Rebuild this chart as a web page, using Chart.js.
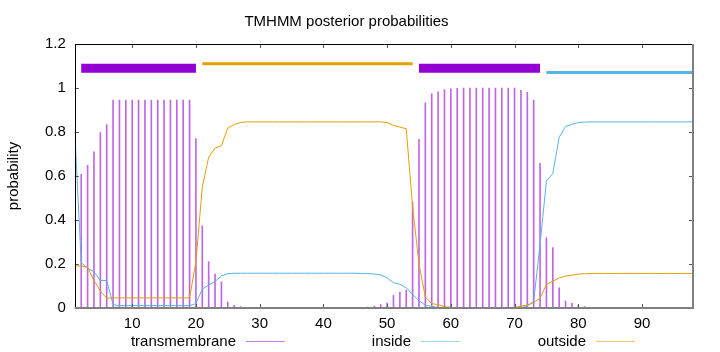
<!DOCTYPE html>
<html>
<head>
<meta charset="utf-8">
<title>TMHMM posterior probabilities</title>
<script src="https://cdn.jsdelivr.net/npm/chart.js@4.4.1/dist/chart.umd.min.js"></script>
<style>
  body { margin: 0; background: #fff; }
  #wrap { position: relative; width: 720px; height: 352px; }
  #key { position: absolute; left: 110px; top: 332px; display: flex;
         font: 15px 'Liberation Sans', Arial, sans-serif; line-height: 18px; color: #000; }
  .item { width: 175px; display: flex; justify-content: flex-end; align-items: center; }
  .sample { width: 39px; height: 0; border-top: 1px solid; margin-left: 10px; }
</style>
</head>
<body>
<div id="wrap">
  <canvas id="myChart" width="720" height="352"></canvas>
  <div id="key"></div>
</div>
<script>
// residue positions 1..98
const residues = Array.from({length: 98}, (_, i) => i + 1);

// posterior probabilities per residue
const transmembrane = [
  0.015, 0.608, 0.649, 0.71, 0.797, 0.834, 0.945, 0.945, 0.945, 0.945,
  0.945, 0.945, 0.945, 0.945, 0.945, 0.945, 0.945, 0.945, 0.945, 0.77,
  0.373, 0.211, 0.154, 0.119, 0.027, 0.012, 0.006, 0.002, 0, 0,
  0, 0, 0, 0, 0, 0, 0, 0, 0, 0,
  0, 0, 0, 0, 0.001, 0.002, 0.004, 0.009, 0.016, 0.022,
  0.058, 0.072, 0.082, 0.48, 0.767, 0.933, 0.974, 0.983, 0.993, 0.996,
  0.999, 1, 1, 1, 1, 1, 1, 1, 1, 1,
  0.989, 0.98, 0.945, 0.658, 0.319, 0.275, 0.092, 0.032, 0.021, 0.011,
  0.006, 0.003, 0.002, 0.001, 0, 0, 0, 0, 0, 0,
  0, 0, 0, 0, 0, 0, 0, 0
];
const inside = [
  0.794, 0.206, 0.18, 0.165, 0.125, 0.125, 0.015, 0.011, 0.011, 0.011,
  0.011, 0.011, 0.011, 0.011, 0.011, 0.011, 0.011, 0.011, 0.011, 0.02,
  0.086, 0.104, 0.121, 0.145, 0.156, 0.158, 0.158, 0.158, 0.158, 0.158,
  0.158, 0.158, 0.158, 0.158, 0.158, 0.158, 0.158, 0.158, 0.158, 0.158,
  0.158, 0.158, 0.158, 0.158, 0.158, 0.157, 0.156, 0.155, 0.15, 0.137,
  0.115, 0.108, 0.092, 0.061, 0.034, 0.012, 0.008, 0.002, 0.001, 0.001,
  0.001, 0.001, 0.001, 0.001, 0.001, 0.001, 0.001, 0.001, 0.001, 0.001,
  0.002, 0.008, 0.031, 0.29, 0.577, 0.611, 0.776, 0.825, 0.835, 0.843,
  0.845, 0.846, 0.846, 0.846, 0.846, 0.846, 0.846, 0.846, 0.846, 0.846,
  0.846, 0.846, 0.846, 0.846, 0.846, 0.846, 0.846, 0.846
];
const outside = [
  0.191, 0.191, 0.185, 0.125, 0.078, 0.044, 0.046, 0.046, 0.046, 0.046,
  0.046, 0.046, 0.046, 0.046, 0.046, 0.046, 0.046, 0.046, 0.046, 0.21,
  0.55, 0.686, 0.727, 0.738, 0.818, 0.834, 0.843, 0.846, 0.846, 0.846,
  0.846, 0.846, 0.846, 0.846, 0.846, 0.846, 0.846, 0.846, 0.846, 0.846,
  0.846, 0.846, 0.846, 0.846, 0.846, 0.846, 0.846, 0.846, 0.846, 0.843,
  0.83, 0.822, 0.815, 0.46, 0.2, 0.05, 0.02, 0.015, 0.006, 0.003,
  0.001, 0.001, 0.001, 0.001, 0.001, 0.001, 0.001, 0.001, 0.001, 0.001,
  0.009, 0.013, 0.025, 0.045, 0.107, 0.122, 0.137, 0.145, 0.149, 0.154,
  0.156, 0.157, 0.157, 0.157, 0.157, 0.157, 0.157, 0.157, 0.157, 0.157,
  0.157, 0.157, 0.157, 0.157, 0.157, 0.157, 0.157, 0.157
];

// predicted topology segments [from, to]
const tmRegions = [[2, 20], [55, 74]];
const outsideRegions = [[21, 54]];
const insideRegions = [[75, 98]];

const seriesNames = ['transmembrane', 'inside', 'outside'];
const seriesColors = ['#9400d3', '#56b4e9', '#e69f00'];

const xTickValues = [10, 20, 30, 40, 50, 60, 70, 80, 90];
const yTickValues = [0, 0.2, 0.4, 0.6, 0.8, 1, 1.2];
const yTickLabels = ['0', '0.2', '0.4', '0.6', '0.8', '1', '1.2'];

// heights where the topology bars sit above the curves
const tmLevel = 1.09, outsideLevel = 1.11, insideLevel = 1.07;

function points(values) {
  return residues.map((r, i) => ({x: r, y: values[i]}));
}
function segments(regions, level) {
  const pts = [];
  regions.forEach(([a, b]) => {
    pts.push({x: a, y: level}, {x: b, y: level}, {x: b, y: null});
  });
  return pts;
}

Chart.defaults.font.family = "'Liberation Sans', Arial, sans-serif";
Chart.defaults.font.size = 15;
Chart.defaults.color = '#000';

// gnuplot style frame: inward ticks mirrored on all four sides
const frame = {
  id: 'frame',
  afterDatasetsDraw(chart) {
    const {ctx, chartArea: a, scales: {x, y}} = chart;
    ctx.save();
    ctx.lineWidth = 1;
    ctx.strokeStyle = '#555';
    ctx.beginPath();
    xTickValues.forEach(v => {
      const px = Math.round(x.getPixelForValue(v)) + 0.5;
      ctx.moveTo(px, a.bottom); ctx.lineTo(px, a.bottom - 4);
      ctx.moveTo(px, a.top); ctx.lineTo(px, a.top + 4);
    });
    yTickValues.forEach(v => {
      const py = Math.round(y.getPixelForValue(v)) + 0.5;
      ctx.moveTo(a.left, py); ctx.lineTo(a.left + 4, py);
      ctx.moveTo(a.right, py); ctx.lineTo(a.right - 4, py);
    });
    ctx.stroke();

    ctx.strokeStyle = '#000';
    ctx.beginPath();
    ctx.moveTo(Math.round(a.left) + 0.5, a.bottom);
    ctx.lineTo(Math.round(a.left) + 0.5, Math.round(a.top) + 0.5);
    ctx.lineTo(a.right, Math.round(a.top) + 0.5);
    ctx.stroke();

    ctx.strokeStyle = '#808080';
    ctx.lineWidth = 2;
    ctx.beginPath();
    ctx.moveTo(a.left, a.bottom);
    ctx.lineTo(a.right, a.bottom);
    ctx.lineTo(a.right, a.top);
    ctx.stroke();
    ctx.restore();
  }
};

const ctx = document.getElementById('myChart');

const myChart = new Chart(ctx, {
  type: 'bar',
  data: {
    datasets: [
      {
        label: seriesNames[0],
        data: points(transmembrane),
        backgroundColor: 'rgba(148,0,211,0.6)',
        barThickness: 1,
        order: 3
      },
      {
        type: 'line',
        label: seriesNames[1],
        data: points(inside),
        borderColor: seriesColors[1],
        borderWidth: 1,
        pointRadius: 0,
        tension: 0,
        order: 2
      },
      {
        type: 'line',
        label: seriesNames[2],
        data: points(outside),
        borderColor: seriesColors[2],
        borderWidth: 1,
        pointRadius: 0,
        tension: 0,
        order: 1
      },
      {
        type: 'line',
        label: 'tm segments',
        data: segments(tmRegions, tmLevel),
        borderColor: seriesColors[0],
        borderWidth: 9,
        borderCapStyle: 'butt',
        pointRadius: 0,
        spanGaps: false,
        order: 0
      },
      {
        type: 'line',
        label: 'outside segments',
        data: segments(outsideRegions, outsideLevel),
        borderColor: seriesColors[2],
        borderWidth: 3,
        borderCapStyle: 'butt',
        pointRadius: 0,
        spanGaps: false,
        order: 0
      },
      {
        type: 'line',
        label: 'inside segments',
        data: segments(insideRegions, insideLevel),
        borderColor: seriesColors[1],
        borderWidth: 3,
        borderCapStyle: 'butt',
        pointRadius: 0,
        spanGaps: false,
        order: 0
      }
    ]
  },
  options: {
    responsive: false,
    animation: false,
    layout: {
      padding: {left: 0, right: 27, top: 0, bottom: 12}
    },
    scales: {
      x: {
        type: 'linear',
        min: 1,
        max: 98,
        offset: false,
        afterBuildTicks: scale => { scale.ticks = xTickValues.map(v => ({value: v})); },
        grid: {display: false, drawTicks: false, offset: false},
        border: {display: false},
        ticks: {
          padding: 7,
          maxRotation: 0,
          autoSkip: false,
          callback: value => String(value)
        }
      },
      y: {
        min: 0,
        max: 1.2,
        afterBuildTicks: scale => { scale.ticks = yTickValues.map(v => ({value: v})); },
        grid: {display: false, drawTicks: false},
        border: {display: false},
        ticks: {
          padding: 9,
          autoSkip: false,
          callback: (value, index) => yTickLabels[index]
        },
        title: {
          display: true,
          text: 'probability',
          padding: {top: 5, bottom: 13}
        }
      }
    },
    plugins: {
      title: {
        display: true,
        text: 'TMHMM posterior probabilities',
        font: {size: 15, weight: 'normal'},
        color: '#000',
        padding: {top: 13, bottom: 13}
      },
      legend: {display: false},
      tooltip: {enabled: false}
    }
  },
  plugins: [frame]
});

// key along the bottom, gnuplot style: text then a line sample
const key = document.getElementById('key');
seriesNames.forEach((name, i) => {
  const item = document.createElement('div');
  item.className = 'item';
  const label = document.createElement('span');
  label.textContent = name;
  const sample = document.createElement('span');
  sample.className = 'sample';
  sample.style.borderTopColor = i === 0 ? '#c080e8' : (i === 1 ? '#9fd2ee' : '#f0c870');
  item.appendChild(label);
  item.appendChild(sample);
  key.appendChild(item);
});
</script>
</body>
</html>
